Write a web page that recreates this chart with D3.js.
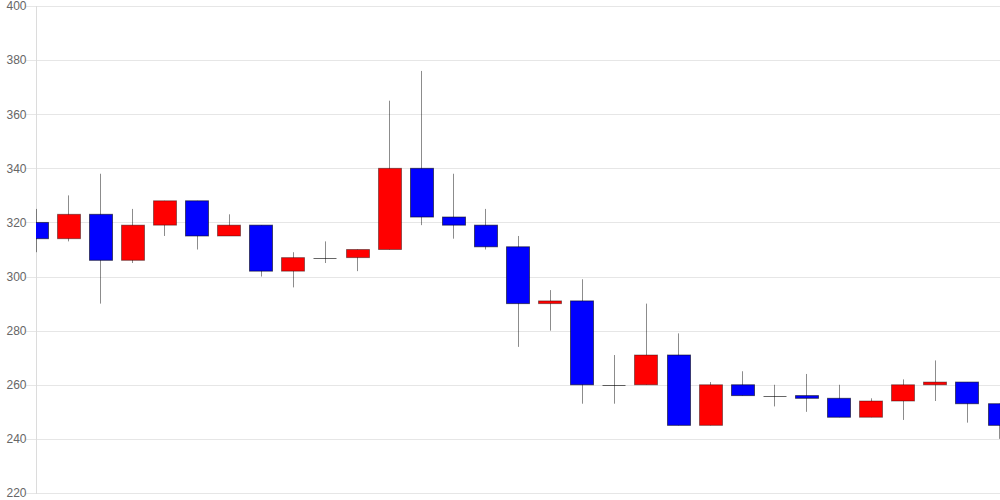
<!DOCTYPE html>
<html>
<head>
<meta charset="utf-8">
<script src="https://cdn.jsdelivr.net/npm/d3@7"></script>
<style>
  html, body { margin: 0; padding: 0; background: #fff; }
  svg { display: block; }
</style>
</head>
<body>
<svg id="chart" width="1000" height="500"></svg>
<script>
const openV  = [320,314,323,306,319,328,315,319,302,307,307,310,340,322,319,311,290,291,260,260,271,245,260,256,256,255,248,254,260,261,253];
const closeV = [314,323,306,319,328,315,319,302,307,307,310,340,322,319,311,290,291,260,260,271,245,260,256,256,255,248,254,260,261,253,245];
const highV  = [325,330,338,325,328,328,323,319,309,313,310,365,376,338,325,315,295,299,271,290,279,261,265,260,264,260,255,262,269,261,253];
const lowV   = [309,313,290,305,315,310,315,300,296,305,302,310,319,314,310,274,280,253,253,260,245,245,256,252,250,248,248,247,254,246,240];
const yTicks = [220,240,260,280,300,320,340,360,380,400];

(function () {
const W = 1000, H = 500;
const pL = 36, pR = 1000, pT = 6, pB = 493;
const svg = d3.select("#chart");

const x = d3.scaleLinear().domain([0, openV.length - 1]).range([36, 999]);
const y = d3.scaleLinear().domain([220, 400]).range([pB, pT]);

// gridlines
const grid = svg.append("g");
yTicks.forEach(t => {
  const yy = Math.round(y(t)) + 0.5;
  grid.append("line")
    .attr("x1", 26).attr("x2", pR)
    .attr("y1", yy).attr("y2", yy)
    .attr("stroke", "#e6e6e6").attr("stroke-width", 1);
});

// y axis
const yAxis = d3.axisLeft(y).tickValues(yTicks).tickSize(0).tickPadding(10).tickFormat(d3.format("d"));
const ag = svg.append("g").attr("transform", `translate(${pL + 0.5},0)`).call(yAxis);
ag.select(".domain").remove();
ag.selectAll("text")
  .attr("fill", "#666")
  .style("font-family", "'Liberation Sans', Arial, Helvetica, sans-serif")
  .style("font-size", "12px");

svg.append("line")
  .attr("x1", pL + 0.5).attr("x2", pL + 0.5)
  .attr("y1", pT).attr("y2", pB + 1)
  .attr("stroke", "#dcdcdc");

// clip
svg.append("clipPath").attr("id", "plot")
  .append("rect").attr("x", pL).attr("y", 0).attr("width", pR - pL).attr("height", H);

const data = openV.map((o, i) => ({ i, o, c: closeV[i], h: highV[i], l: lowV[i] }));
const bodyW = 23;
const g = svg.append("g").attr("clip-path", "url(#plot)");

// wicks
g.selectAll("line.wick").data(data).enter().append("line")
  .attr("class", "wick")
  .attr("x1", d => Math.round(x(d.i)) + 0.5)
  .attr("x2", d => Math.round(x(d.i)) + 0.5)
  .attr("y1", d => y(d.h))
  .attr("y2", d => y(d.l))
  .attr("stroke", "rgba(0,0,0,0.45)")
  .attr("stroke-width", 1);

// bodies
g.selectAll("rect.body").data(data).enter().append("rect")
  .attr("class", "body")
  .attr("x", d => Math.round(x(d.i) - bodyW / 2) + 0.5)
  .attr("width", bodyW)
  .attr("y", d => y(Math.max(d.o, d.c)))
  .attr("height", d => Math.max(0, Math.abs(y(d.o) - y(d.c))))
  .attr("fill", d => d.c > d.o ? "#ff0000" : "#0000ff")
  .attr("stroke", d => d.c > d.o ? "rgba(0,0,0,0.4)" : "rgba(0,0,0,0.55)")
  .attr("stroke-width", 1);

// doji lines
g.selectAll("line.doji").data(data.filter(d => d.o === d.c)).enter().append("line")
  .attr("class", "doji")
  .attr("x1", d => Math.round(x(d.i) - bodyW / 2) + 0.5)
  .attr("x2", d => Math.round(x(d.i) + bodyW / 2) + 0.5)
  .attr("y1", d => Math.round(y(d.o)) + 0.5)
  .attr("y2", d => Math.round(y(d.o)) + 0.5)
  .attr("stroke", "rgba(0,0,0,0.6)")
  .attr("stroke-width", 1);
})();
</script>
</body>
</html>
